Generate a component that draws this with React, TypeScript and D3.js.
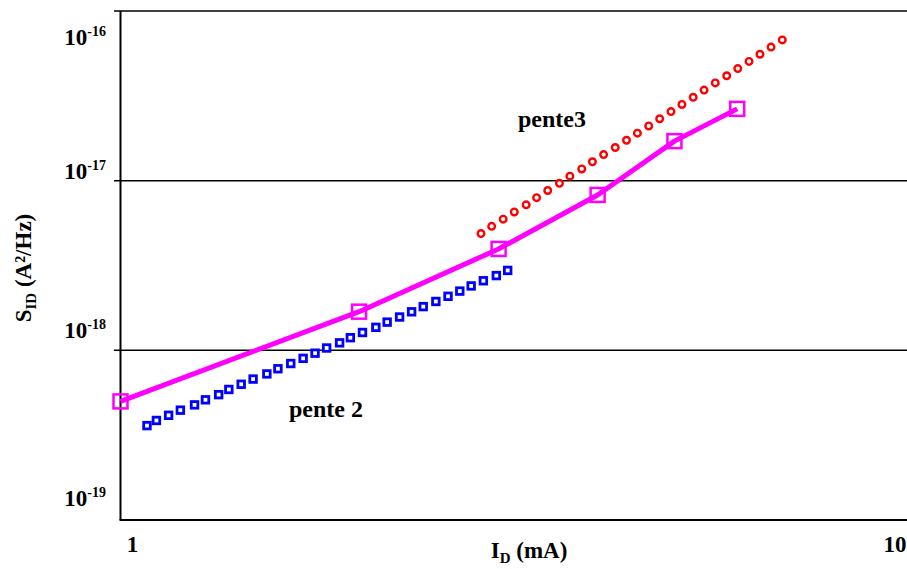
import * as d3 from "d3";

// measured curve (magenta)
const measX = [1, 2, 3, 4, 5, 6];
const measY = [5.0e-19, 1.69e-18, 3.96e-18, 8.24e-18, 1.71e-17, 2.65e-17];

// slope 2 reference (blue squares)
const p2X = [1.08, 1.11, 1.15, 1.19, 1.24, 1.28, 1.33, 1.37, 1.42, 1.47, 1.53, 1.58, 1.64, 1.70, 1.76, 1.82,
  1.89, 1.95, 2.02, 2.10, 2.17, 2.25, 2.33, 2.41, 2.50, 2.59, 2.68, 2.77, 2.87, 2.98, 3.08];
const p2Y = [3.60e-19, 3.86e-19, 4.14e-19, 4.44e-19, 4.77e-19, 5.11e-19, 5.48e-19, 5.88e-19, 6.31e-19, 6.77e-19,
  7.26e-19, 7.79e-19, 8.36e-19, 8.97e-19, 9.62e-19, 1.032e-18, 1.107e-18, 1.187e-18, 1.274e-18, 1.366e-18,
  1.466e-18, 1.572e-18, 1.687e-18, 1.810e-18, 1.941e-18, 2.082e-18, 2.234e-18, 2.396e-18, 2.571e-18, 2.758e-18, 2.958e-18];

// slope 3 reference (red circles)
const p3X = [2.85, 2.94, 3.04, 3.14, 3.25, 3.35, 3.46, 3.58, 3.69, 3.82, 3.94, 4.07, 4.21, 4.35,
  4.49, 4.64, 4.79, 4.95, 5.11, 5.28, 5.45, 5.63, 5.82, 6.01, 6.21, 6.41, 6.62, 6.84];
const p3Y = [4.88e-18, 5.38e-18, 5.93e-18, 6.54e-18, 7.20e-18, 7.94e-18, 8.75e-18, 9.65e-18, 1.063e-17, 1.172e-17,
  1.292e-17, 1.424e-17, 1.569e-17, 1.730e-17, 1.906e-17, 2.101e-17, 2.316e-17, 2.553e-17, 2.813e-17, 3.101e-17,
  3.418e-17, 3.767e-17, 4.152e-17, 4.576e-17, 5.044e-17, 5.559e-17, 6.127e-17, 6.754e-17];

const yTicks = [1e-16, 1e-17, 1e-18, 1e-19];
const yTickExp = ["-16", "-17", "-18", "-19"];
const xTicks = [1, 10];
const xTickText = ["1", "10"];

const W = 907, H = 569;
const FONT = "'Liberation Serif', 'Times New Roman', serif";

export default function App() {
  const x = d3.scaleLog().domain([1, 10]).range([120.5, 913]);
  const y = d3.scaleLog().domain([1e-19, 1e-16]).range([520, 11]);

  const line = d3.line<number>()
    .x((_, i) => x(measX[i]))
    .y(d => y(d));

  // label nudges (where the original put its tick text)
  const yLabelDy = [34, -2, -12, -14];
  const xLabelDx = [12, -18];

  return (
    <svg width={W} height={H} style={{ position: "absolute", left: 0, top: 0, background: "#fff" }}
      fontFamily={FONT} fontWeight="bold">
      {/* grid lines / ticks */}
      {yTicks.slice(0, 3).map(t => (
        <line key={t} x1={114} x2={W} y1={y(t)} y2={y(t)} stroke="#000" strokeWidth={1.5} />
      ))}
      {/* axes */}
      <line x1={x(1)} x2={x(1)} y1={y(1e-16)} y2={y(1e-19)} stroke="#000" strokeWidth={2} />
      <line x1={x(1) - 1} x2={W} y1={y(1e-19)} y2={y(1e-19)} stroke="#000" strokeWidth={2} />

      {/* y tick labels */}
      {yTicks.map((t, i) => (
        <text key={t} x={106} y={y(t) + yLabelDy[i]} textAnchor="end" fontSize={23}>
          10<tspan fontSize={14} dy={-9}>{yTickExp[i]}</tspan>
        </text>
      ))}
      {/* x tick labels */}
      {xTicks.map((t, i) => (
        <text key={t} x={x(t) + xLabelDx[i]} y={552} textAnchor="middle" fontSize={23}>{xTickText[i]}</text>
      ))}

      {/* axis titles */}
      <text x={529} y={558} textAnchor="middle" fontSize={23}>
        I<tspan fontSize={15} dy={5}>D</tspan><tspan dy={-5}> (mA)</tspan>
      </text>
      <text transform="translate(31,268) rotate(-90)" textAnchor="middle" fontSize={23}>
        S<tspan fontSize={15} dy={5}>ID</tspan><tspan dy={-5}> (A²/Hz)</tspan>
      </text>

      {/* slope labels */}
      <text x={289} y={417} fontSize={24}>pente 2</text>
      <text x={518} y={127} fontSize={24}>pente3</text>

      {/* slope 2 markers */}
      {p2X.map((v, i) => (
        <rect key={"b" + i} x={x(v) - 3.3} y={y(p2Y[i]) - 3.3} width={6.6} height={6.6}
          fill="#fff" stroke="#0000ff" strokeWidth={2.8} />
      ))}
      {/* slope 3 markers */}
      {p3X.map((v, i) => (
        <circle key={"r" + i} cx={x(v)} cy={y(p3Y[i])} r={3.3}
          fill="#fff" stroke="#ff0000" strokeWidth={2.4} />
      ))}

      {/* measured */}
      <path d={line(measY) || ""} fill="none" stroke="#ff00ff" strokeWidth={5} strokeLinejoin="round" />
      {measX.map((v, i) => (
        <rect key={"m" + i} x={x(v) - 7} y={y(measY[i]) - 7} width={14} height={14}
          fill="none" stroke="#ff00ff" strokeWidth={2.5} />
      ))}
    </svg>
  );
}
